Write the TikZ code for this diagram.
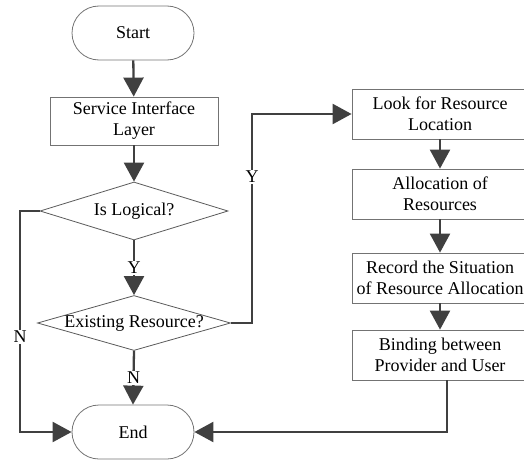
\documentclass[tikz,border=0pt]{standalone}
\usepackage{fontspec}
\setmainfont{Liberation Serif}
\usetikzlibrary{arrows.meta,shapes.geometric}
\tikzset{
  txt/.style={font=\fontsize{18}{21}\selectfont, text=black, align=center},
  terminal/.style={txt, draw=black!55, line width=0.8pt, rounded corners=27pt,
    minimum width=122pt, minimum height=54pt, inner sep=0pt},
  stepbox/.style={txt, draw=black!55, line width=0.8pt,
    minimum width=168pt, minimum height=48pt, inner sep=0pt},
  sidebox/.style={stepbox, minimum width=176pt, minimum height=50pt},
  decision/.style={draw=black!65, line width=0.8pt, diamond, inner sep=0pt},
  conn/.style={draw=black!75, line width=2.3pt,
    -{Triangle[length=19pt,width=20pt]}},
  lbl/.style={txt, fill=white, inner sep=1pt},
}
\begin{document}
\begin{tikzpicture}[x=1pt,y=-1pt]
  \useasboundingbox (0,0) rectangle (524,460);
  % main column
  \node[terminal] (start) at (133,33) {Start};
  \node[stepbox] (sil) at (134,121) {Service Interface\\Layer};
  \node[decision, minimum width=188pt, minimum height=58pt,
        label={[txt]center:Is Logical?}] (d1) at (134,211) {};
  \node[decision, minimum width=193pt, minimum height=55pt,
        label={[txt]center:Existing Resource?}] (d2) at (134,323) {};
  \node[terminal] (end) at (133,432) {End};
  % right column
  \node[sidebox] (look) at (440,114) {Look for Resource\\Location};
  \node[sidebox] (alloc) at (440,194) {Allocation of\\Resources};
  \node[sidebox] (record) at (440,278) {Record the Situation\\of Resource Allocation};
  \node[sidebox] (bind) at (440,355) {Binding between\\Provider and User};
  % connectors
  \draw[conn] (start) -- (sil);
  \draw[conn] (sil) -- (d1.north);
  \draw[conn] (d1.south) -- node[lbl, pos=0.5] {Y} (d2.north);
  \draw[conn] (d2.south) -- node[lbl, pos=0.5] {N} (end.north);
  \draw[conn] (d1.west) -- (20,211) -- node[lbl, pos=0.57] {N} (20,432) -- (end.west);
  \draw[conn] (d2.east) -- (252,323) -- node[lbl, pos=0.70] {Y} (252,114) -- (look.west);
  \draw[conn] (look) -- (alloc);
  \draw[conn] (alloc) -- (record);
  \draw[conn] (record) -- (bind);
  \draw[conn] ([xshift=7pt]bind.south) |- (end.east);
\end{tikzpicture}
\end{document}
